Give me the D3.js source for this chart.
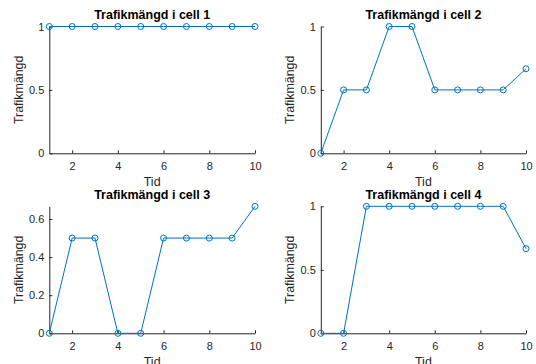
<!DOCTYPE html>
<html>
<head>
<meta charset="utf-8">
<script src="https://cdn.jsdelivr.net/npm/d3@7"></script>
<style>
  body { margin: 0; background: #fff; }
  svg { display: block; font-family: "Liberation Sans", Arial, sans-serif; }
  .axis path, .axis line { stroke: #262626; }
  .axis text { fill: #262626; font-size: 11px; }
</style>
</head>
<body>
<div id="chart"></div>
<script>
// data
const tid = [1, 2, 3, 4, 5, 6, 7, 8, 9, 10]
const cell1 = [1, 1, 1, 1, 1, 1, 1, 1, 1, 1]
const cell2 = [0, 0.5, 0.5, 1, 1, 0.5, 0.5, 0.5, 0.5, 0.6667]
const cell3 = [0, 0.5, 0.5, 0, 0, 0.5, 0.5, 0.5, 0.5, 0.6667]
const cell4 = [0, 0, 1, 1, 1, 1, 1, 1, 1, 0.6667]
const titles = ['Trafikmängd i cell 1', 'Trafikmängd i cell 2', 'Trafikmängd i cell 3', 'Trafikmängd i cell 4']
const xTicks = [2, 4, 6, 8, 10]
const yTicks = [0, 0.5, 1]
const yTicks3 = [0, 0.2, 0.4, 0.6]

const series = [cell1, cell2, cell3, cell4]
const yMaxes = [1, 1, 0.6667, 1]
const yTickSets = [yTicks, yTicks, yTicks3, yTicks]

const width = 536
const height = 364
const color = '#0072BD'

// subplot boxes (plot area in px)
const cols = [[49.3, 255], [320.8, 526]]
const rows = [[26.5, 153.3], [206.3, 333.3]]

const svg = d3.select('#chart')
  .append('svg')
  .attr('width', width)
  .attr('height', height)

series.forEach((values, i) => {
  const [x0, x1] = cols[i % 2]
  const [y0, y1] = rows[Math.floor(i / 2)]

  const xScale = d3.scaleLinear().domain([1, 10]).range([x0, x1])
  const yScale = d3.scaleLinear().domain([0, yMaxes[i]]).range([y1, y0])

  const g = svg.append('g')

  // axes, ticks pointing inwards like matlab
  g.append('g')
    .classed('axis', true)
    .attr('transform', `translate(0, ${y1})`)
    .call(d3.axisBottom(xScale)
      .tickValues(xTicks)
      .tickSizeInner(-3)
      .tickSizeOuter(0)
      .tickPadding(8.5)
      .tickFormat(d3.format('~g')))

  g.append('g')
    .classed('axis', true)
    .attr('transform', `translate(${x0}, 0)`)
    .call(d3.axisLeft(yScale)
      .tickValues(yTickSets[i])
      .tickSizeInner(-3)
      .tickSizeOuter(0)
      .tickPadding(5)
      .tickFormat(d3.format('~g')))

  g.selectAll('.axis path').attr('stroke-width', 1)

  // line
  const line = d3.line()
    .x((d, j) => xScale(tid[j]))
    .y(d => yScale(d))

  g.append('path')
    .datum(values)
    .attr('d', line)
    .attr('fill', 'none')
    .attr('stroke', color)
    .attr('stroke-width', 1)

  g.selectAll('circle')
    .data(values)
    .join('circle')
    .attr('cx', (d, j) => xScale(tid[j]))
    .attr('cy', d => yScale(d))
    .attr('r', 3)
    .attr('fill', 'none')
    .attr('stroke', color)
    .attr('stroke-width', 1)

  // title
  g.append('text')
    .attr('x', (x0 + x1) / 2)
    .attr('y', y0 - 7.5)
    .attr('text-anchor', 'middle')
    .attr('font-size', '12.5px')
    .attr('font-weight', 'bold')
    .attr('fill', '#000')
    .text(titles[i])

  // x label
  g.append('text')
    .attr('x', (x0 + x1) / 2)
    .attr('y', y1 + 32.4)
    .attr('text-anchor', 'middle')
    .attr('font-size', '12.4px')
    .attr('fill', '#262626')
    .text('Tid')

  // y label
  g.append('text')
    .attr('transform', `translate(${x0 - 26.8}, ${(y0 + y1) / 2}) rotate(-90)`)
    .attr('text-anchor', 'middle')
    .attr('font-size', '12.4px')
    .attr('fill', '#262626')
    .text('Trafikmängd')
})
</script>
</body>
</html>
